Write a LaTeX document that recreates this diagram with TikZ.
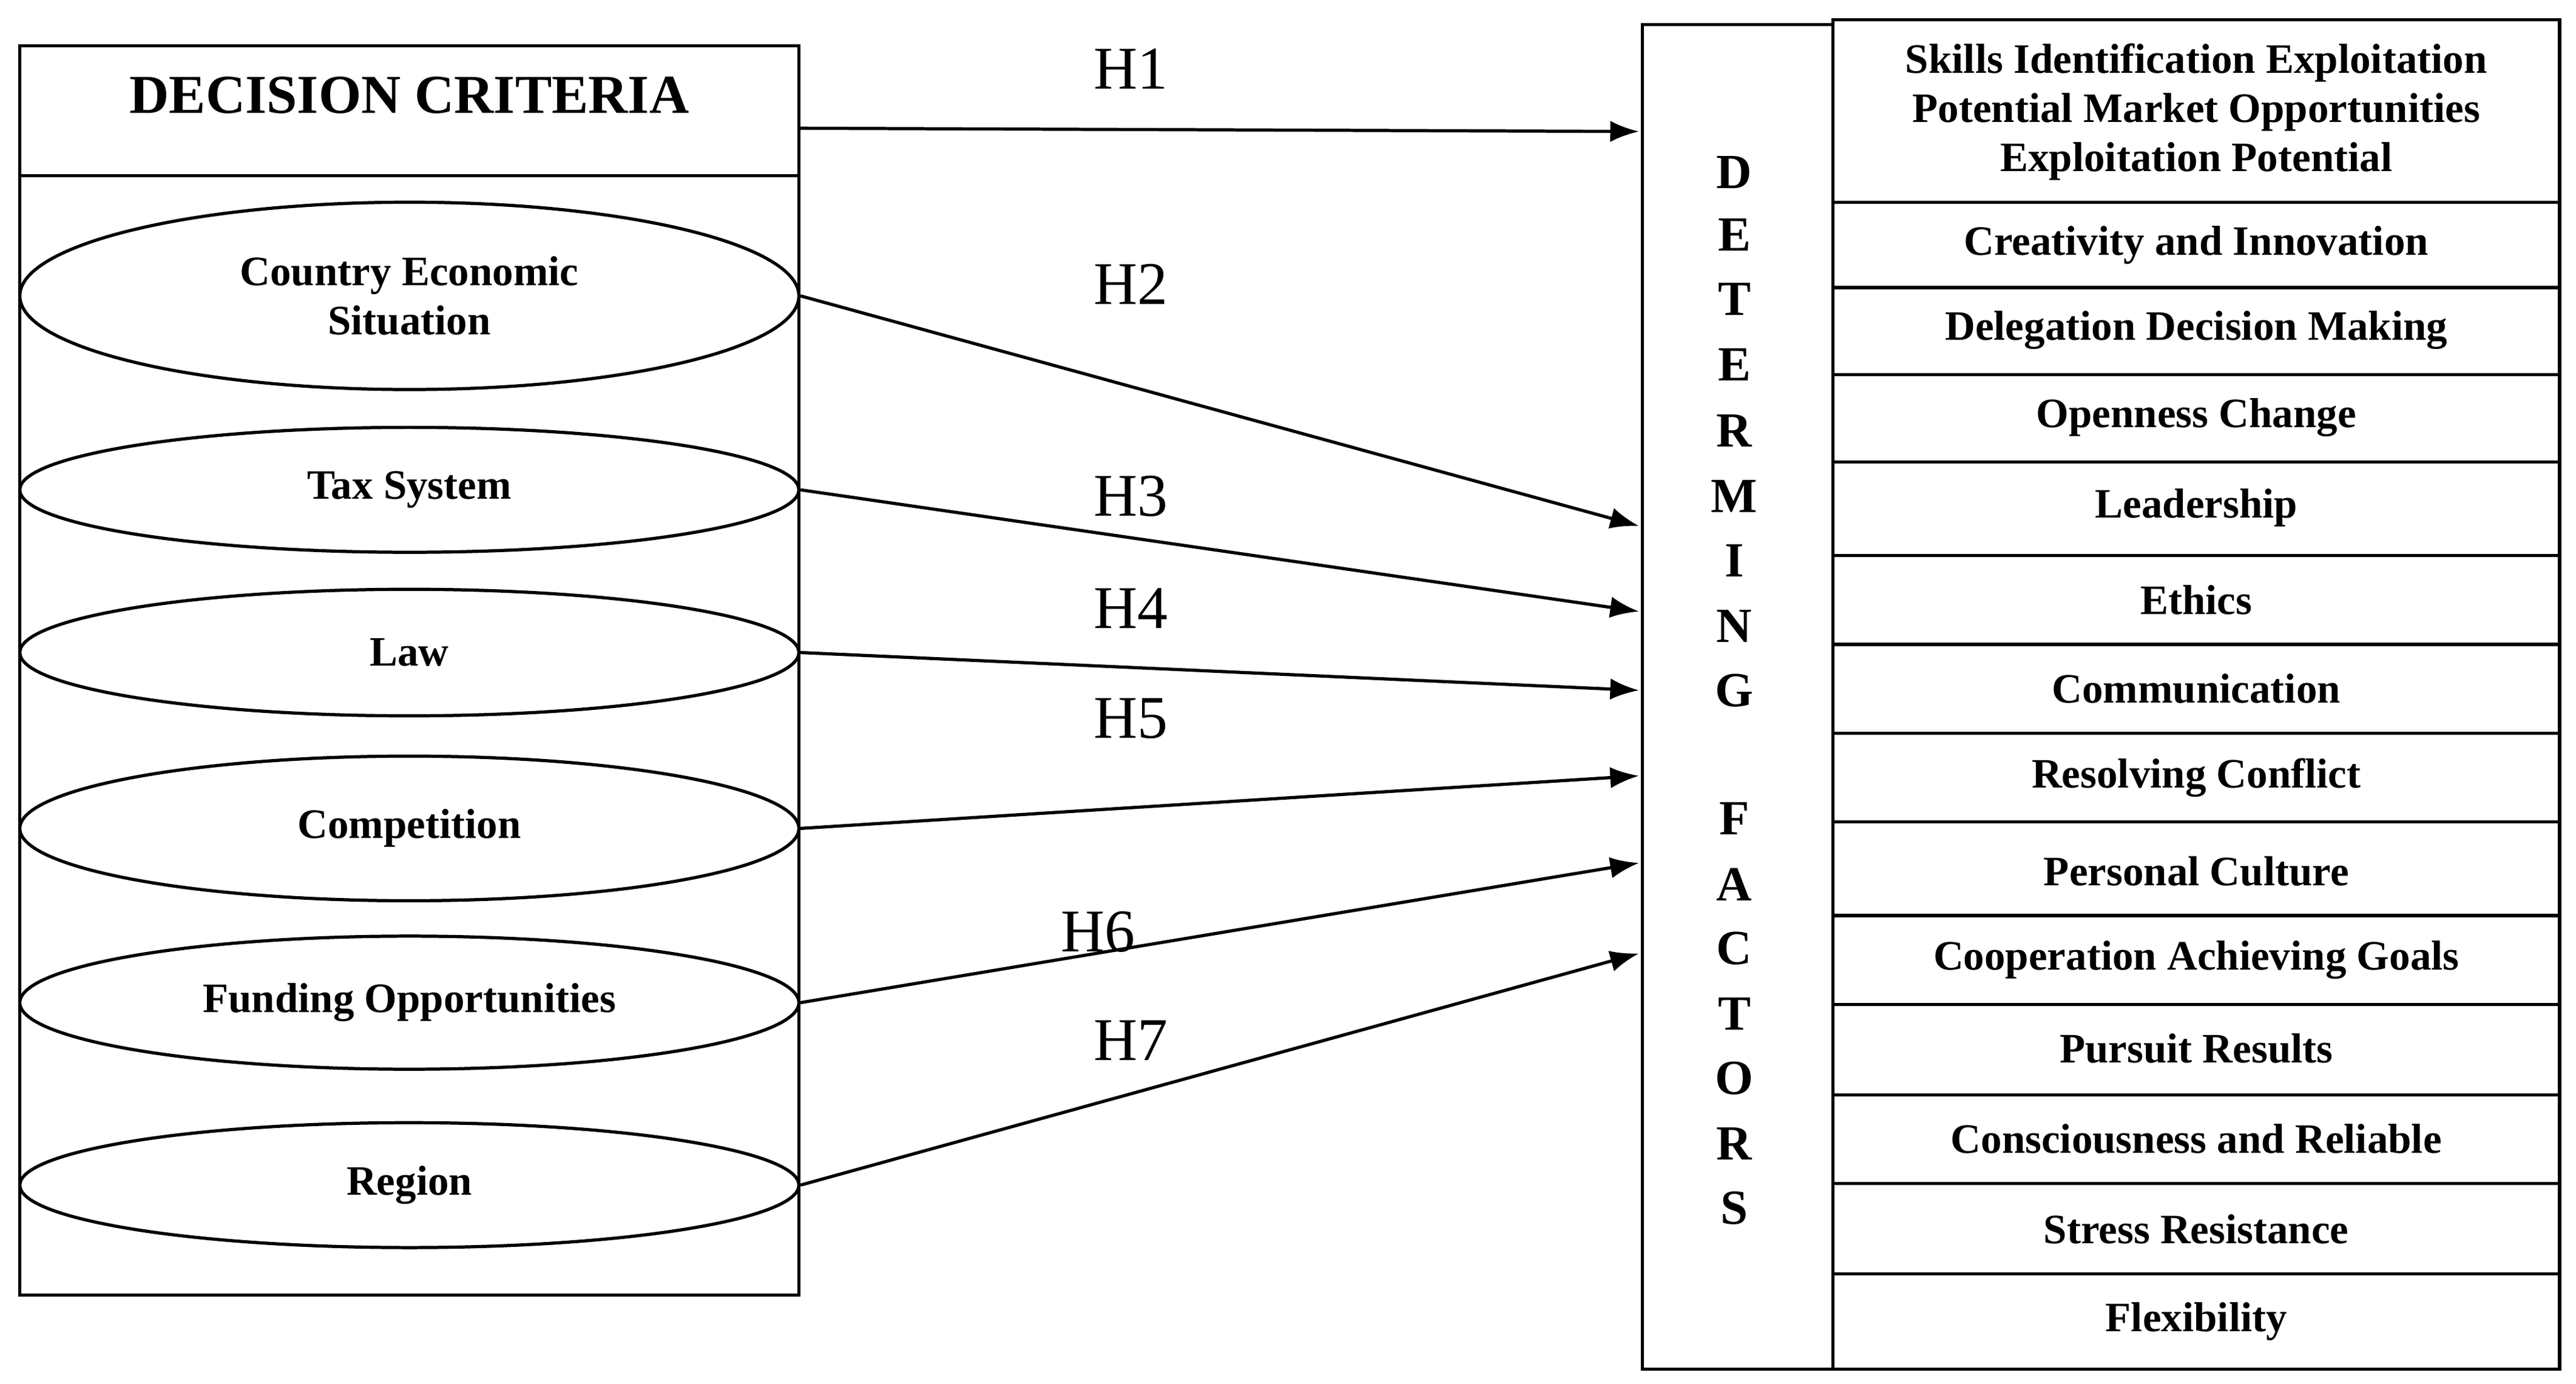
\documentclass[tikz,border=0pt]{standalone}
\usepackage{fontspec}
\setmainfont{Liberation Serif}
\usetikzlibrary{positioning,shapes.geometric,arrows.meta}
\begin{document}
\begin{tikzpicture}[x=0.02cm,y=-0.02cm,-{Latex[length=3.5mm,width=2.6mm]},line width=1.1pt,
	crit/.style ={ellipse,draw,minimum width=9.48cm,minimum height=#1,align=center,
		font=\fontsize{14.5}{17}\selectfont\bfseries,inner sep=0pt},
	fact/.style ={font=\fontsize{14.5}{17}\selectfont\bfseries,align=center,inner sep=0pt},
	hyp/.style ={font=\fontsize{21}{23}\selectfont,inner sep=0pt},
	letter/.style ={font=\fontsize{17}{19}\selectfont\bfseries,inner sep=0pt}]
	\useasboundingbox (0,0) rectangle (1567,842);
	% left box
	\draw[-] (12,28) rectangle (486,788);
	\draw[-] (12,107) -- (486,107);
	\node[font=\fontsize{19}{21}\selectfont\bfseries] (title) at (249,58) {DECISION CRITERIA};
	\coordinate (tEast) at (486,78);
	\node[crit=2.28cm] (ces) at (249,180) {Country Economic\\Situation};
	\node[crit=1.52cm] (tax) at (249,298) {Tax System};
	\node[crit=1.54cm] (law) at (249,397) {Law};
	\node[crit=1.76cm] (comp) at (249,504) {Competition};
	\node[crit=1.62cm] (fund) at (249,610) {Funding Opportunities};
	\node[crit=1.52cm] (reg) at (249,721) {Region};
	% middle box
	\draw[-] (999,15) rectangle (1115,833);
	\foreach \l/\y in {D/105,E/143,T/182,E/222,R/262,M/302,I/341,N/381,G/420,
		F/498,A/538,C/577,T/617,O/656,R/696,S/735}
		\node[letter] at (1055,\y) {\l};
	\foreach \n/\y in {a/80,b/320,c/372,d/420,e/472,f/525,g/580}
		\coordinate (m\n) at (997,\y);
	% right column
	\draw[-] (1115,12) rectangle (1557,833);
	\foreach \y in {123,175,228,281,338,392,446,500,557,611,666,720,775}
		\draw[-] (1115,\y) -- (1557,\y);
	\node[fact] (f1) at (1336,68) {Skills Identification Exploitation\\Potential Market Opportunities\\Exploitation Potential};
	\node[fact] (f2) at (1336,149) {Creativity and Innovation};
	\node[fact] (f3) at (1336,201) {Delegation Decision Making};
	\node[fact] (f4) at (1336,254) {Openness Change};
	\node[fact] (f5) at (1336,309) {Leadership};
	\node[fact] (f6) at (1336,365) {Ethics};
	\node[fact] (f7) at (1336,419) {Communication};
	\node[fact] (f8) at (1336,473) {Resolving Conflict};
	\node[fact] (f9) at (1336,530) {Personal Culture};
	\node[fact] (f10) at (1336,584) {Cooperation Achieving Goals};
	\node[fact] (f11) at (1336,638) {Pursuit Results};
	\node[fact] (f12) at (1336,693) {Consciousness and Reliable};
	\node[fact] (f13) at (1336,748) {Stress Resistance};
	\node[fact] (f14) at (1336,804) {Flexibility};
	% hypotheses
	\draw (tEast) -- (ma);
	\draw (ces.east) -- (mb);
	\draw (tax.east) -- (mc);
	\draw (law.east) -- (md);
	\draw (comp.east) -- (me);
	\draw (fund.east) -- (mf);
	\draw (reg.east) -- (mg);
	\node[hyp] (h1) at (688,42) {H1};
	\node[hyp] (h2) at (688,173) {H2};
	\node[hyp] (h3) at (688,302) {H3};
	\node[hyp] (h4) at (688,370) {H4};
	\node[hyp] (h5) at (688,437) {H5};
	\node[hyp] (h6) at (668,567) {H6};
	\node[hyp] (h7) at (688,633) {H7};
\end{tikzpicture}
\end{document}
